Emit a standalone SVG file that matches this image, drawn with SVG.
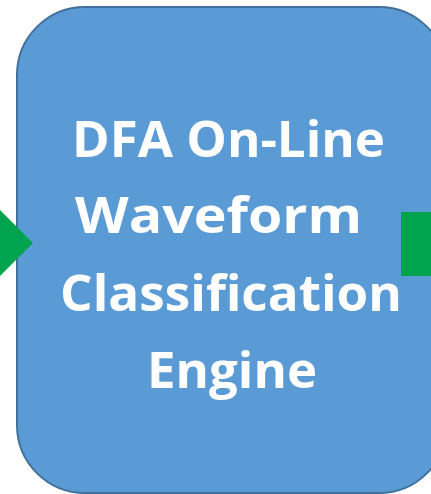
<svg xmlns="http://www.w3.org/2000/svg" width="431" height="494" viewBox="0 0 431 494">
  <style>
    .engine { fill: #5B9BD5; stroke: #41719C; stroke-width: 2; }
    .flow { fill: #00A44F; }
    .label { font-family: "Open Sans", "Noto Sans", "Liberation Sans", sans-serif; font-weight: 700; font-size: 51px; fill: #FFFFFF; }
  </style>
  <rect width="431" height="494" fill="#FFFFFF"/>
  <g id="engine">
    <rect class="engine" x="17" y="7" width="430" height="486" rx="68" ry="68"/>
    <text class="label" x="72" y="157" textLength="313" lengthAdjust="spacingAndGlyphs">DFA On-Line</text>
    <text class="label" x="75" y="233" textLength="287" lengthAdjust="spacingAndGlyphs">Waveform</text>
    <text class="label" x="60" y="311" textLength="342" lengthAdjust="spacingAndGlyphs">Classification</text>
    <text class="label" x="147" y="388" textLength="170" lengthAdjust="spacingAndGlyphs">Engine</text>
  </g>
  <g id="connectors">
    <polygon class="flow" points="-2,208 33,243 -2,278"/>
    <rect class="flow" x="401" y="212" width="32" height="64"/>
  </g>
</svg>
